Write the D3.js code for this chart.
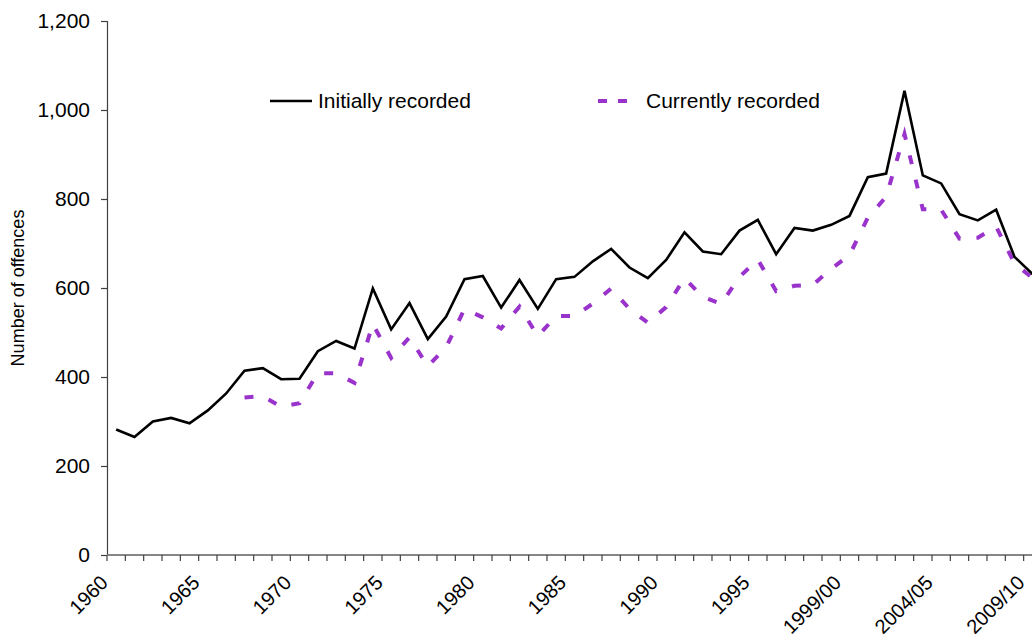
<!DOCTYPE html>
<html>
<head>
<meta charset="utf-8">
<script src="https://cdn.jsdelivr.net/npm/d3@7"></script>
<style>
  html, body { margin: 0; padding: 0; background: #fff; overflow: hidden; }
  svg { display: block; font-family: "Liberation Sans", Arial, sans-serif; }
</style>
</head>
<body>
<svg id="chart" width="1032" height="641"></svg>
<script>
// ---- data ----
const categories = [
  "1960","1961","1962","1963","1964","1965","1966","1967","1968","1969",
  "1970","1971","1972","1973","1974","1975","1976","1977","1978","1979",
  "1980","1981","1982","1983","1984","1985","1986","1987","1988","1989",
  "1990","1991","1992","1993","1994","1995","1996","1997","1997/98","1998/99",
  "1999/00","2000/01","2001/02","2002/03","2003/04","2004/05","2005/06","2006/07","2007/08","2008/09",
  "2009/10"
];
const labelledCategories = ["1960","1965","1970","1975","1980","1985","1990","1995","1999/00","2004/05","2009/10"];

const initiallyRecorded = [
  282, 265, 300, 308, 296, 325, 363, 414, 420, 395,
  396, 458, 481, 464, 599, 507, 566, 485, 536, 620,
  627, 556, 618, 553, 620, 625, 660, 688, 646, 622,
  663, 725, 682, 676, 729, 753, 676, 735, 729, 742,
  762, 849, 857, 1043, 853, 835, 766, 752, 776, 670,
  631
];
const currentlyRecorded = [
  null, null, null, null, null, null, null, 354, 357, 333,
  341, 409, 408, 387, 519, 443, 489, 424, 467, 553,
  534, 509, 558, 492, 537, 537, 565, 599, 553, 522,
  557, 622, 580, 564, 625, 664, 593, 605, 607, 643,
  674, 758, 805, 946, 777, 776, 711, 713, 738, 655,
  622
];
const yTicks = [0, 200, 400, 600, 800, 1000, 1200];
const seriesNames = ["Initially recorded", "Currently recorded"];

// ---- layout ----
const svg = d3.select("#chart");
const x0 = 107, yBottom = 555, yTop = 21;
const step = 18.333;
const x = d3.scaleBand().domain(categories).range([x0, x0 + step * categories.length]).paddingInner(0).paddingOuter(0);
const y = d3.scaleLinear().domain([0, 1200]).range([yBottom, yTop]);
const cx = d => x(d) + x.bandwidth() / 2;

// y axis
const yAxis = d3.axisLeft(y).tickValues(yTicks).tickFormat(d3.format(",")).tickSize(6).tickPadding(11);
const gy = svg.append("g").attr("transform", `translate(${x0},0)`).call(yAxis);
gy.select(".domain").attr("stroke", "#404040").attr("stroke-width", 1.2);
gy.selectAll(".tick line").attr("stroke", "#404040").attr("stroke-width", 1.2);
gy.selectAll(".tick text").attr("font-size", 21).attr("fill", "#000")
  .attr("font-family", "Liberation Sans, Arial, sans-serif");

// x axis: ticks at band boundaries
const boundaries = d3.range(categories.length + 1).map(i => x0 + i * step);
const gx = svg.append("g");
gx.append("line").attr("x1", x0).attr("x2", x0 + step * categories.length)
  .attr("y1", yBottom).attr("y2", yBottom).attr("stroke", "#868686").attr("stroke-width", 1.8);
gx.selectAll("line.tk").data(boundaries).join("line").attr("class", "tk")
  .attr("x1", d => d).attr("x2", d => d).attr("y1", yBottom).attr("y2", yBottom + 6)
  .attr("stroke", "#404040").attr("stroke-width", 1.2);
gx.selectAll("text").data(labelledCategories).join("text")
  .attr("transform", d => `translate(${cx(d) - 7},${yBottom + 29}) rotate(-45)`)
  .attr("text-anchor", "end")
  .attr("font-size", 20).attr("fill", "#000")
  .text(d => d);

// y title
svg.append("text")
  .attr("transform", `translate(24,${(yTop + yBottom) / 2}) rotate(-90)`)
  .attr("text-anchor", "middle")
  .attr("font-size", 18).attr("fill", "#000")
  .text("Number of offences");

// lines
const line = d3.line().defined(d => d.v != null).x(d => cx(d.c)).y(d => y(d.v));
const s1 = categories.map((c, i) => ({ c, v: initiallyRecorded[i] }));
const s2 = categories.map((c, i) => ({ c, v: currentlyRecorded[i] }));

svg.append("path").datum(s2).attr("d", line).attr("fill", "none")
  .attr("stroke", "#9933CC").attr("stroke-width", 4).attr("stroke-dasharray", "9,16");
svg.append("path").datum(s1).attr("d", line).attr("fill", "none")
  .attr("stroke", "#000").attr("stroke-width", 2.6).attr("stroke-linejoin", "miter");

// legend
const lg = svg.append("g");
lg.append("line").attr("x1", 270).attr("x2", 312).attr("y1", 101).attr("y2", 101)
  .attr("stroke", "#000").attr("stroke-width", 2.6);
lg.append("text").attr("x", 318).attr("y", 108).attr("font-size", 21).text(seriesNames[0]);
lg.append("line").attr("x1", 598).attr("x2", 628).attr("y1", 101).attr("y2", 101)
  .attr("stroke", "#9933CC").attr("stroke-width", 4).attr("stroke-dasharray", "9,11");
lg.append("text").attr("x", 646).attr("y", 108).attr("font-size", 21).text(seriesNames[1]);
</script>
</body>
</html>
